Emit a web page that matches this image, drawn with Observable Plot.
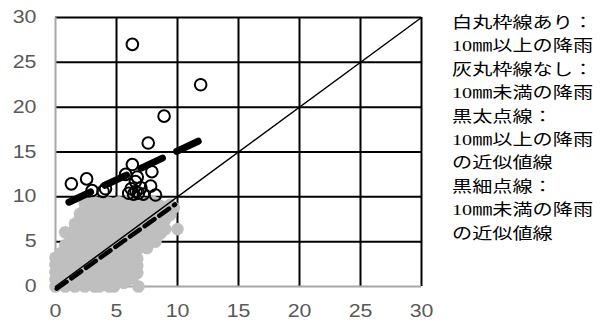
<!DOCTYPE html>
<html><head><meta charset="utf-8">
<script src="https://cdn.jsdelivr.net/npm/d3@7"></script>
<script src="https://cdn.jsdelivr.net/npm/@observablehq/plot@0.6"></script>
<style>
body{margin:0;background:#fff;}
#wrap{position:relative;width:611px;height:324px;overflow:hidden;}
#legend{position:absolute;left:452px;top:11px;font-family:"Liberation Serif","Noto Sans CJK JP",serif;font-size:15.5px;line-height:23.4px;color:#000;transform:scaleX(1.3);transform-origin:left top;white-space:nowrap;}
</style></head>
<body><div id="wrap"><div id="chart"></div><div id="legend"></div></div>
<script>
const xTicks = [0, 5, 10, 15, 20, 25, 30];
const yTicks = [0, 5, 10, 15, 20, 25, 30];

// 10mm以上の降雨 (open circles): [x, y]
const heavyRain = [
  [1.3, 11.45], [2.55, 12.0], [3.0, 10.7], [3.9, 10.6], [4.1, 10.9],
  [5.75, 12.5], [6.3, 13.6], [6.3, 27.0], [6.55, 11.7], [7.9, 12.8],
  [7.8, 11.2], [8.2, 10.2], [7.6, 16.0], [8.9, 19.0], [11.9, 22.5],
  [6.0, 10.4], [6.4, 10.3], [6.8, 10.4], [7.2, 10.3], [6.2, 10.9],
  [6.6, 10.6], [7.0, 11.0], [6.7, 12.2]
];

// 10mm未満の降雨 (grey dots): columns [x, [y...]]
const lightRainCols = [
  [0.0, [0, 0.8, 1.6, 2.4, 3.2]],
  [0.4, [0.3, 1.1, 2.0, 2.8, 3.7]],
  [0.8, [0, 0.7, 1.5, 2.3, 3.1, 3.9, 4.6, 6.05]],
  [1.2, [0.3, 1.1, 1.9, 2.7, 3.5, 4.3, 5.1]],
  [1.6, [0, 0.8, 1.6, 2.4, 3.2, 4.0, 4.8, 5.6, 6.4, 7.0]],
  [2.0, [0.4, 1.2, 2.0, 2.8, 3.6, 4.4, 5.2, 6.0, 6.8, 7.6, 8.1]],
  [2.4, [0, 0.8, 1.6, 2.4, 3.2, 4.0, 4.8, 5.6, 6.4, 7.2, 8.0, 8.6, 9.3]],
  [2.8, [0.3, 1.1, 1.9, 2.7, 3.5, 4.3, 5.1, 5.9, 6.7, 7.5, 8.3, 9.2]],
  [3.2, [0, 0.8, 1.6, 2.4, 3.2, 4.0, 4.8, 5.6, 6.4, 7.2, 8.0, 8.8, 9.4]],
  [3.6, [0, 0.4, 1.2, 2.0, 2.8, 3.6, 4.4, 5.2, 6.0, 6.8, 7.6, 8.4, 9.2]],
  [4.0, [0.2, 0.9, 1.7, 2.5, 3.3, 4.1, 4.9, 5.7, 6.5, 7.3, 8.1, 8.9, 9.5]],
  [4.4, [0, 0.6, 1.4, 2.2, 3.0, 3.8, 4.6, 5.4, 6.2, 7.0, 7.8, 8.6, 9.3]],
  [4.8, [0, 0.3, 1.1, 1.9, 2.7, 3.5, 4.3, 5.1, 5.9, 6.7, 7.5, 8.3, 9.1]],
  [5.2, [0.7, 1.5, 2.3, 3.1, 3.9, 4.7, 5.5, 6.3, 7.1, 7.9, 8.7, 9.4]],
  [5.6, [0.4, 1.2, 2.0, 2.8, 3.6, 4.4, 5.2, 6.0, 6.8, 7.6, 8.4, 9.2]],
  [6.0, [0.8, 1.6, 2.4, 3.2, 4.0, 4.8, 5.6, 6.4, 7.2, 8.0, 8.8, 9.5]],
  [6.4, [1.2, 2.0, 2.8, 3.6, 4.4, 5.1, 5.9, 6.7, 7.5, 8.3, 9.1]],
  [6.7, [1.5, 2.3, 3.1, 4.1, 5.0, 6.2, 7.0, 7.8, 8.6, 9.4]],
  [6.8, [0]],
  [7.1, [4.5, 5.4, 6.3, 7.1, 7.9, 8.7, 9.3]],
  [7.5, [4.3, 5.2, 6.0, 6.8, 7.6, 8.4, 9.2]],
  [7.9, [5.6, 6.4, 7.2, 8.0, 8.8, 9.5]],
  [8.2, [5.0, 6.2, 7.4, 8.6, 9.3]],
  [8.6, [5.9, 6.7, 7.9, 9.0]],
  [9.0, [6.4, 7.5, 8.5]],
  [9.4, [8.0, 9.1]],
  [9.7, [8.8]],
  [10.0, [6.4]]
];

// 近似値線 endpoints and 1:1 line
const trendHeavy = [[1.1, 9.4], [11.7, 16.2]];
const trendLight = [[0.1, -0.25], [9.8, 9.15]];
const oneToOne = [[0, 0], [30, 30]];

const legendLines = [
  "白丸枠線あり：", "10㎜以上の降雨", "灰丸枠線なし：", "10㎜未満の降雨",
  "黒太点線：", "10㎜以上の降雨", "の近似値線", "黒細点線：", "10㎜未満の降雨", "の近似値線"
];

const lightRain = lightRainCols.flatMap(([x, ys]) => ys.map(y => ({x, y})));
const px = d => d[0], py = d => d[1];

const chart = Plot.plot({
  width: 440, height: 324,
  marginLeft: 55, marginRight: 19, marginTop: 17, marginBottom: 38,
  x: {domain: [0, 30], label: null},
  y: {domain: [0, 30], label: null},
  style: {fontFamily: '"Liberation Sans", Arial, sans-serif', background: "#fff", overflow: "visible"},
  marks: [
    Plot.gridX({ticks: xTicks.filter(d => d > 0), stroke: "#000", strokeOpacity: 1, strokeWidth: 2}),
    Plot.gridY({ticks: yTicks.filter(d => d > 0), stroke: "#000", strokeOpacity: 1, strokeWidth: 2}),
    Plot.ruleX([0], {stroke: "#a6a6a6", strokeWidth: 2}),
    Plot.ruleY([0], {stroke: "#a6a6a6", strokeWidth: 2}),
    Plot.axisX({ticks: xTicks, tickSize: 0, tickPadding: 18, fontSize: 17.5, color: "#595959", label: null}),
    Plot.axisY({ticks: yTicks, tickSize: 0, tickPadding: 19, fontSize: 17.5, color: "#595959", label: null}),
    Plot.dot(lightRain, {x: "x", y: "y", r: 6.3, fill: "#bfbfbf", stroke: null}),
    Plot.dot(heavyRain, {x: px, y: py, r: 5.8, stroke: "#000", strokeWidth: 2, fill: "none"}),
    Plot.line(oneToOne, {x: px, y: py, stroke: "#000", strokeWidth: 1.5}),
    Plot.line(trendLight, {x: px, y: py, stroke: "#000", strokeWidth: 4.5, strokeDasharray: "12,6"}),
    Plot.line(trendHeavy, {x: px, y: py, stroke: "#000", strokeWidth: 7, strokeLinecap: "round", strokeDasharray: "24,15.7"})
  ]
});
document.getElementById("chart").appendChild(chart);

document.querySelectorAll('g[aria-label$="tick label"] text').forEach(t => {
  const w = t.getComputedTextLength();
  t.setAttribute("textLength", w * 1.22);
  t.setAttribute("lengthAdjust", "spacingAndGlyphs");
});

const lg = document.getElementById("legend");
legendLines.forEach(s => { const d = document.createElement("div"); d.textContent = s; lg.appendChild(d); });
</script>
</body></html>
